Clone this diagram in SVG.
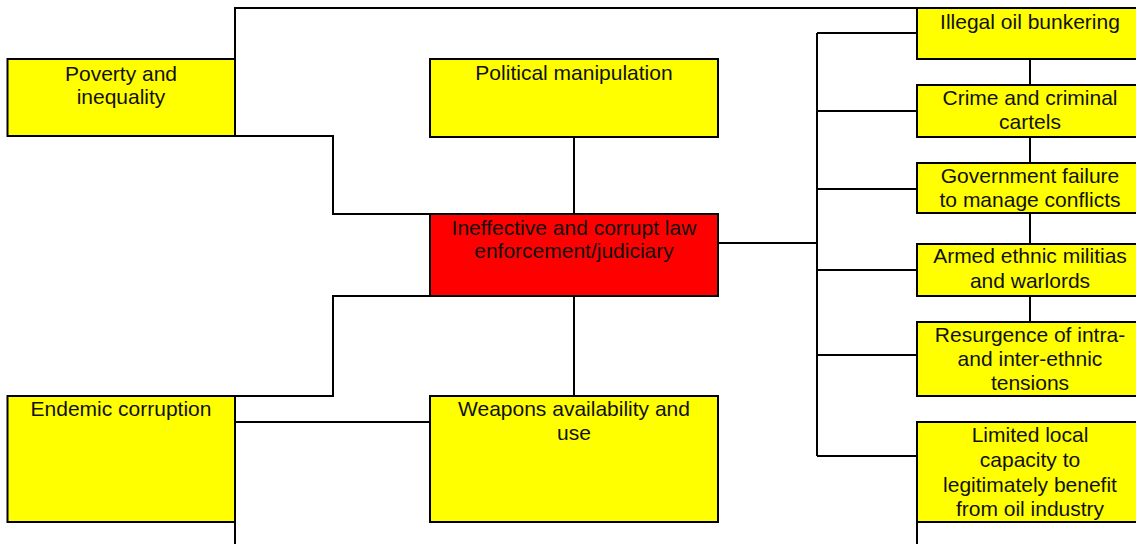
<svg xmlns="http://www.w3.org/2000/svg" width="1136" height="544" viewBox="0 0 1136 544">
  <style>
    .box { stroke: #000; stroke-width: 2; }
    .yellow { fill: #ffff00; }
    .red { fill: #ff0000; }
    .lbl { font-family: "Liberation Sans", Arial, sans-serif; font-size: 21px; fill: #111; text-anchor: middle; }
    .wire { fill: none; stroke: #000; stroke-width: 2; }
  </style>
  <rect width="1136" height="544" fill="#fff"/>

  <g id="connectors">
    <!-- poverty to bunkering across the top -->
    <polyline class="wire" points="235,59 235,8 917,8"/>
    <!-- poverty to central box -->
    <polyline class="wire" points="7,136 333,136 333,214 430,214"/>
    <!-- political manipulation to central box -->
    <line class="wire" x1="574" y1="137" x2="574" y2="214"/>
    <!-- central box to endemic corruption -->
    <polyline class="wire" points="430,296 333,296 333,396 7,396"/>
    <!-- central box to weapons -->
    <line class="wire" x1="574" y1="296" x2="574" y2="396"/>
    <!-- endemic corruption to weapons -->
    <line class="wire" x1="235" y1="422" x2="430" y2="422"/>
    <line class="wire" x1="235" y1="522" x2="235" y2="544"/>
    <!-- central box to right-hand spine -->
    <line class="wire" x1="718" y1="243" x2="817" y2="243"/>
    <line class="wire" x1="817" y1="33" x2="817" y2="456"/>
    <line class="wire" x1="817" y1="33" x2="917" y2="33"/>
    <line class="wire" x1="817" y1="111" x2="917" y2="111"/>
    <line class="wire" x1="817" y1="189" x2="917" y2="189"/>
    <line class="wire" x1="817" y1="270" x2="917" y2="270"/>
    <line class="wire" x1="817" y1="355" x2="917" y2="355"/>
    <line class="wire" x1="817" y1="456" x2="917" y2="456"/>
    <!-- chain between right-hand boxes -->
    <line class="wire" x1="1030" y1="59" x2="1030" y2="85"/>
    <line class="wire" x1="1030" y1="137" x2="1030" y2="163"/>
    <line class="wire" x1="1030" y1="213" x2="1030" y2="244"/>
    <line class="wire" x1="1030" y1="296" x2="1030" y2="322"/>
    <line class="wire" x1="917" y1="522" x2="917" y2="544"/>
  </g>

  <g id="poverty">
    <rect class="box yellow" x="7.5" y="59" width="227.5" height="77"/>
    <text class="lbl" x="121" y="80.5">Poverty and</text>
    <text class="lbl" x="121" y="103.5">inequality</text>
  </g>

  <g id="political">
    <rect class="box yellow" x="430" y="59" width="288" height="78"/>
    <text class="lbl" x="574" y="80">Political manipulation</text>
  </g>

  <g id="law-enforcement">
    <rect class="box red" x="430" y="214" width="288" height="82"/>
    <text class="lbl" x="574" y="235">Ineffective and corrupt law</text>
    <text class="lbl" x="574" y="258">enforcement/judiciary</text>
  </g>

  <g id="endemic">
    <rect class="box yellow" x="7.5" y="396" width="227.5" height="126"/>
    <text class="lbl" x="121" y="416">Endemic corruption</text>
  </g>

  <g id="weapons">
    <rect class="box yellow" x="430" y="396" width="288" height="126"/>
    <text class="lbl" x="574" y="416">Weapons availability and</text>
    <text class="lbl" x="574" y="440">use</text>
  </g>

  <g id="bunkering">
    <rect class="box yellow" x="917" y="8" width="240" height="51"/>
    <text class="lbl" x="1030" y="28.5">Illegal oil bunkering</text>
  </g>

  <g id="crime">
    <rect class="box yellow" x="917" y="85" width="240" height="52"/>
    <text class="lbl" x="1030" y="105">Crime and criminal</text>
    <text class="lbl" x="1030" y="129">cartels</text>
  </g>

  <g id="government">
    <rect class="box yellow" x="917" y="163" width="240" height="50"/>
    <text class="lbl" x="1030" y="183">Government failure</text>
    <text class="lbl" x="1030" y="207">to manage conflicts</text>
  </g>

  <g id="militias">
    <rect class="box yellow" x="917" y="244" width="240" height="52"/>
    <text class="lbl" x="1030" y="263">Armed ethnic militias</text>
    <text class="lbl" x="1030" y="288">and warlords</text>
  </g>

  <g id="tensions">
    <rect class="box yellow" x="917" y="322" width="240" height="74"/>
    <text class="lbl" x="1030" y="342">Resurgence of intra-</text>
    <text class="lbl" x="1030" y="366">and inter-ethnic</text>
    <text class="lbl" x="1030" y="390">tensions</text>
  </g>

  <g id="local-capacity">
    <rect class="box yellow" x="917" y="422" width="240" height="100"/>
    <text class="lbl" x="1030" y="442">Limited local</text>
    <text class="lbl" x="1030" y="467">capacity to</text>
    <text class="lbl" x="1030" y="492">legitimately benefit</text>
    <text class="lbl" x="1030" y="516">from oil industry</text>
  </g>
</svg>
